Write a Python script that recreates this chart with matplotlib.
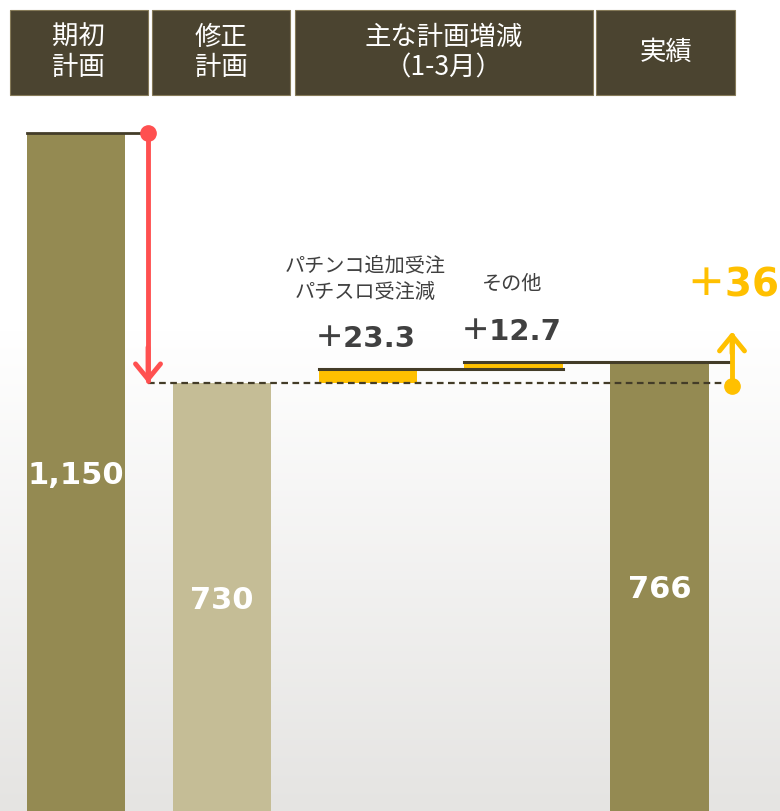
import numpy as np
import matplotlib
matplotlib.use("Agg")
import matplotlib.pyplot as plt
from matplotlib.patches import Rectangle
import matplotlib.transforms as mtransforms

plt.rcParams['font.family'] = ['Noto Sans CJK JP', 'DejaVu Sans']
NUMFONT = ['DejaVu Sans', 'Noto Sans CJK JP']

# --- data ---
headers = ["期初\n計画", "修正\n計画", "主な計画増減\n（1-3月）", "実績"]
plan_initial = 1150
plan_revised = 730
change_values = [23.3, 12.7]
change_labels = ["＋23.3", "＋12.7"]
change_notes = ["パチンコ追加受注\nパチスロ受注減", "その他"]
actual = 766
actual_label = "＋36"

OLIVE = "#948a52"
LIGHT = "#c5bd96"
GOLD = "#ffc000"
RED = "#ff5050"
DARK = "#433c28"
HEAD = "#4b4430"
TXT = "#404040"

fig = plt.figure(figsize=(7.8, 8.11), dpi=100)

# background gradient
bg = fig.add_axes([0, 0, 1, 1], zorder=0)
bg.axis("off")
h = 811
rows = np.arange(h)
t = np.clip((rows - 330) / (h - 330), 0, 1)
top_c = np.array([1.0, 1.0, 1.0])
bot_c = np.array([0xe5, 0xe4, 0xe2]) / 255
grad = top_c[None, :] * (1 - t[:, None]) + bot_c[None, :] * t[:, None]
bg.imshow(grad[:, None, :], aspect="auto", extent=[0, 1, 0, 1])
bg.set_xlim(0, 1)
bg.set_ylim(0, 1)

ax = fig.add_axes([0, 0, 1, 1], zorder=1)
ax.patch.set_alpha(0)
ax.axis("off")
ax.set_xlim(-0.521, 4.825)
ax.set_ylim(10.9, 1373.5)

w = 0.675
x_init, x_rev, x_chg, x_act = 0, 1, [2, 3], 4

# main bars
ax.bar(x_init, plan_initial, width=w, color=OLIVE, zorder=2)
ax.bar(x_rev, plan_revised, width=w, color=LIGHT, zorder=2)
ax.bar(x_act, actual, width=w, color=OLIVE, zorder=2)

# waterfall change bars
bottoms = plan_revised + np.concatenate([[0], np.cumsum(change_values)[:-1]])
ax.bar(x_chg, change_values, bottom=bottoms, width=w, color=GOLD, zorder=2)

# value labels inside bars
for x, v, s in [(x_init, plan_initial, "1,150"), (x_rev, plan_revised, "730"),
                (x_act, actual, "766")]:
    ax.text(x, v / 2, s, ha="center", va="center", color="white",
            fontsize=22, fontweight="bold", family=NUMFONT, zorder=3)

# connectors
xa = 0.4935
xb = 4.496
ax.plot([x_init - w / 2, xa], [plan_initial] * 2, color=DARK, lw=2, zorder=3)
ax.plot([xa, xb], [plan_revised] * 2, color=DARK, lw=1.6, ls=(0, (3, 2)), zorder=3)
tops = bottoms + np.array(change_values)
ax.plot([x_chg[0] - w / 2, x_chg[1] + w / 2], [tops[0]] * 2, color=DARK, lw=2.2, zorder=3)
ax.plot([x_chg[1] - w / 2, xb], [tops[1]] * 2, color=DARK, lw=2.2, zorder=3)

# red arrow (initial -> revised)
ax.plot([xa, xa], [plan_initial, plan_revised + 4], color=RED, lw=3.5,
        solid_capstyle="round", zorder=4)
ax.annotate("", xy=(xa, plan_revised), xytext=(xa, plan_revised + 60),
            arrowprops=dict(arrowstyle="->,head_length=0.55,head_width=0.45",
                            mutation_scale=20, color=RED, lw=3.5,
                            shrinkA=0, shrinkB=0,
                            capstyle="round", joinstyle="round"), zorder=4)
ax.plot(xa, plan_initial, "o", color=RED, ms=11, zorder=5)

# gold arrow (revised -> actual)
ax.plot([xb, xb], [plan_revised - 5, 810], color=GOLD, lw=3.5,
        solid_capstyle="round", zorder=4)
ax.annotate("", xy=(xb, 816), xytext=(xb, 780),
            arrowprops=dict(arrowstyle="->,head_length=0.55,head_width=0.45",
                            mutation_scale=20, color=GOLD, lw=3.5,
                            shrinkA=0, shrinkB=0,
                            capstyle="round", joinstyle="round"), zorder=4)
ax.plot(xb, plan_revised - 5, "o", color=GOLD, ms=11, zorder=5)
ax.text(4.50, 893, actual_label, ha="center", va="center", color=GOLD,
        fontsize=28, fontweight="bold", family=NUMFONT, zorder=5)

# change labels and notes
for x, top, lab in zip(x_chg, tops, change_labels):
    ax.text(x - 0.02, top + 50, lab, ha="center", va="center", color=TXT,
            fontsize=21, fontweight="bold", family=NUMFONT, zorder=5)
ax.text(1.98, 905, change_notes[0], ha="center", va="center", color=TXT,
        fontsize=14.5, linespacing=1.35, zorder=5)
ax.text(2.99, 896, change_notes[1], ha="center", va="center", color=TXT,
        fontsize=14.5, zorder=5)

# header boxes
trans = mtransforms.blended_transform_factory(ax.transData, ax.transAxes)
spans = [(-0.455, 0.49), (0.52, 1.47), (1.50, 3.54), (3.565, 4.52)]
y0, y1 = 1 - 95 / 811, 1 - 10 / 811
for (a, b), lab in zip(spans, headers):
    ax.add_patch(Rectangle((a, y0), b - a, y1 - y0, transform=trans,
                           facecolor=HEAD, edgecolor="#857a58", lw=0.8,
                           zorder=5, clip_on=False))
    ax.text((a + b) / 2, (y0 + y1) / 2, lab, transform=trans, ha="center",
            va="center", color="white", fontsize=19, linespacing=1.15, zorder=6)

fig.savefig("out.png", dpi=100)
